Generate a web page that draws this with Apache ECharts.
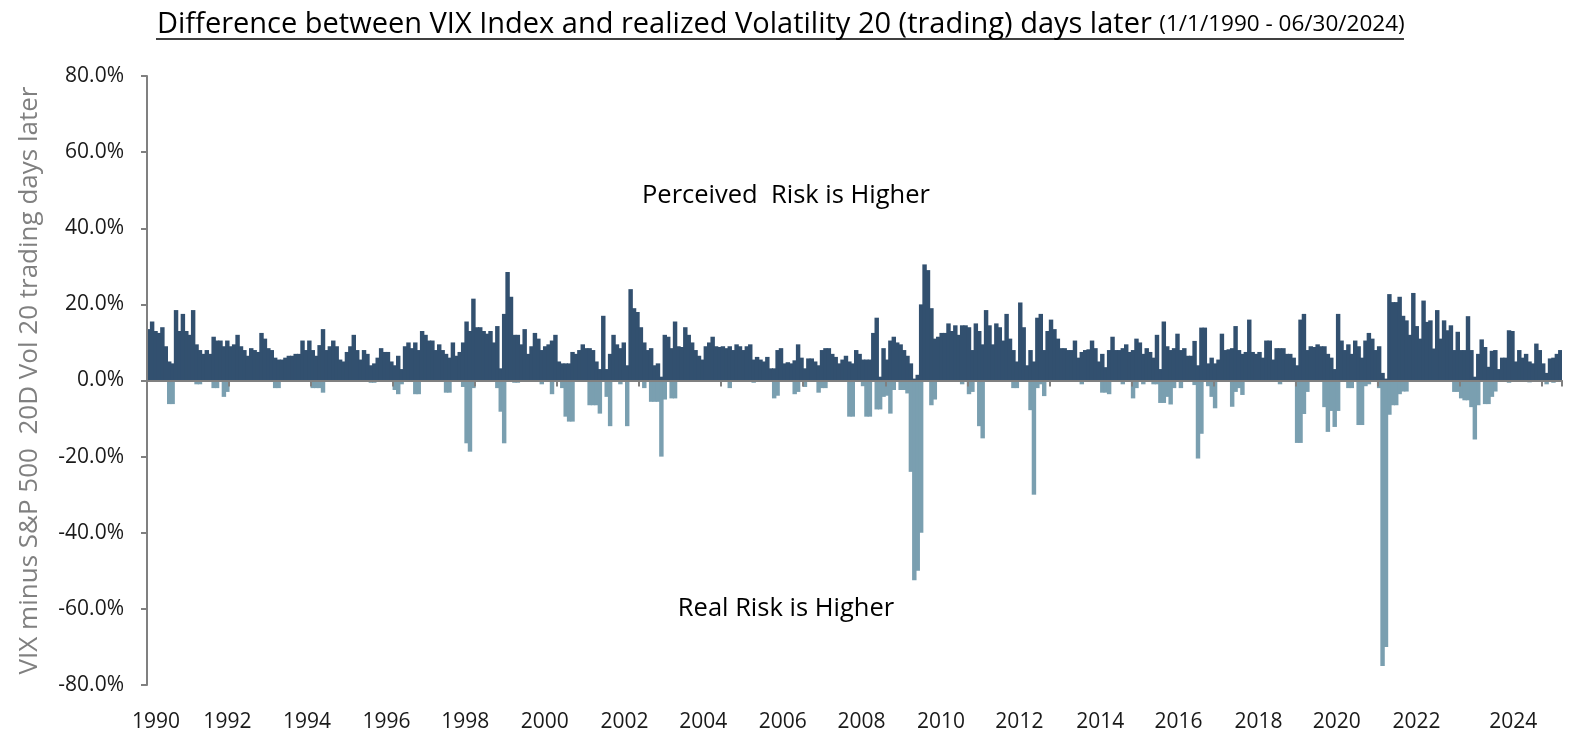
<!DOCTYPE html>
<html>
<head>
<meta charset="utf-8">
<script src="https://cdn.jsdelivr.net/npm/echarts@6/dist/echarts.min.js"></script>
<style>
  html, body { margin: 0; padding: 0; background: #ffffff; }
  #chart { width: 1580px; height: 731px; }
</style>
</head>
<body>
<div id="chart"></div>
<script>
// Monthly envelope of (VIX - S&P 500 20D realized vol 20 trading days later), in %, Jan 1990 .. Jun 2024
const startYear = 1990;
const positiveVals = [
  13.5, 15.5, 13, 12.5, 14, 9, 5, 4.5, 18.5, 13, 17.5, 13,          // 1990
  12, 18.5, 9.5, 8, 7, 8, 7, 11.5, 10.5, 10.5, 9, 10.5,             // 1991
  9, 9.5, 12, 9, 8, 6.5, 8.5, 8, 7.5, 12.5, 11, 8.5,                // 1992
  8, 6, 5.5, 5.5, 6, 6.5, 6.5, 7, 7, 10.5, 8, 10.5,                 // 1993
  8, 6.5, 9.3, 13.5, 8, 9, 10.5, 9, 5.5, 5, 7.5, 9,                 // 1994
  12, 8, 5.5, 8, 7, 4, 4.5, 6, 8.5, 7.5, 7.5, 5,                    // 1995
  4, 6.5, 3, 9, 10, 8.5, 10, 8, 13, 12, 10.5, 10.5,                 // 1996
  8, 9.5, 8, 7, 6, 10, 6.5, 7.5, 10, 15.5, 13, 21.5,                // 1997
  14, 14, 13, 12.3, 13, 10, 14.3, 3.2, 17.5, 28.5, 22, 12,          // 1998
  12, 9.5, 13.5, 7, 9, 12.5, 11, 8, 9, 9.5, 10.5, 12,               // 1999
  5, 4.5, 4.5, 4.5, 7.5, 7, 8, 9.5, 8.5, 8.5, 8, 5,                 // 2000
  3, 17, 3, 7, 12, 9.5, 8.5, 10, 4, 24, 19, 18,                     // 2001
  14, 10, 8, 8.5, 4, 4.5, 1, 12, 11.5, 8.5, 15.5, 9,                // 2002
  8.8, 14, 12, 10, 8, 6.5, 5.5, 9, 10, 11.5, 9, 8.8,                // 2003
  9, 8.5, 9, 8, 9.5, 9, 8, 9, 9.5, 5.5, 6.2, 5.5,                   // 2004
  5, 6.2, 3.2, 3.2, 8, 8.5, 4.5, 4.8, 4.5, 5.3, 9.5, 6,             // 2005
  3.2, 5.8, 5.8, 5, 4, 8, 8.5, 8.5, 7, 6.2, 4.5, 5.5,               // 2006
  6.5, 5, 4.5, 8, 7, 5.5, 5.5, 5.5, 12.5, 16.5, 1, 8.5,             // 2007
  5.5, 10.5, 11.5, 10, 9.5, 8, 6.5, 4.5, 0.5, 1.5, 20, 30.5,        // 2008
  29, 19, 11, 11.5, 12.5, 12.5, 15, 13, 14.5, 12, 14.5, 14.5,       // 2009
  14, 8, 15, 13, 9.5, 18.5, 14.5, 9.5, 15, 14, 10.5, 17.5,          // 2010
  11, 8, 5, 20.5, 14, 4, 8, 5, 16.5, 17.5, 8, 13,                   // 2011
  16, 13.5, 11, 8.5, 8.5, 8, 8, 10.5, 6, 7.5, 8, 8.2,               // 2012
  10.5, 8.5, 5, 7, 3.5, 8, 11.5, 8, 8, 8.5, 9.5, 7.5,               // 2013
  8, 11, 10, 7, 8.5, 7.5, 6, 12, 3, 15.5, 9, 8,                     // 2014
  8.5, 12.3, 8, 8.5, 6.5, 6.5, 10.4, 4, 13.9, 13.9, 4.5, 6,         // 2015
  4.5, 5.5, 12.3, 8, 8.2, 8.5, 14.3, 8, 7, 7.5, 16, 7.5,            // 2016
  7, 7.5, 6, 10.5, 10.5, 5.5, 8.5, 8.5, 8.5, 7, 7, 6,               // 2017
  4, 16, 17.5, 8, 9, 8.8, 9.5, 9, 9, 7, 6, 3,                       // 2018
  17.5, 10.5, 8, 9.5, 7, 10.5, 9, 6, 10.5, 12.5, 11, 8,             // 2019
  9, 2, 0.5, 22.7, 20.6, 20.6, 22, 17, 15.8, 12, 23, 14.3,          // 2020
  11, 21, 15.4, 15.8, 8.4, 18.5, 11, 15.8, 13.2, 14.5, 8, 12.8,     // 2021
  8, 8, 16.9, 8, 1, 7, 10.8, 8.8, 3.6, 7.8, 8, 3,                   // 2022
  6, 6, 13.2, 13, 5, 8, 6, 7, 5, 4.5, 9.7, 8,                       // 2023
  4.5, 2, 5.8, 6, 7, 8                                              // 2024 (Jan-Jun)
];
const negativeVals = [
  0, 0, 0, 0, 0, 0, -6.2, -6.2, 0, 0, 0, 0,                         // 1990
  0, 0, -1, -1, 0, 0, 0, -2, -2, 0, -4.3, -3,                       // 1991
  0, 0, 0, 0, 0, 0, 0, 0, 0, 0, 0, 0,                               // 1992
  0, -2, -2, 0, 0, 0, 0, 0, 0, 0, 0, 0,                             // 1993
  -2, -2, -2, -3.2, 0, 0, 0, 0, 0, 0, 0, 0,                         // 1994
  0, 0, 0, 0, 0, -0.6, -0.6, 0, 0, 0, 0, 0,                         // 1995
  -2.5, -3.6, -1, 0, 0, 0, -3.6, -3.6, 0, 0, 0, 0,                  // 1996
  0, 0, 0, -3.2, -3.2, 0, 0, 0, -1.7, -16.5, -18.7, -2,             // 1997
  0, 0, 0, 0, 0, 0, -2, -8.2, -16.5, 0, 0, -0.6,                    // 1998
  -0.6, 0, 0, 0, 0, 0, 0, -1, 0, 0, -3.6, 0,                        // 1999
  0, -2, -9.5, -10.8, -10.8, 0, 0, 0, 0, -6.5, -6.5, -6.5,          // 2000
  -8.7, 0, -4.3, -12, 0, 0, -1, 0, -12, 0, 0, 0,                    // 2001
  0, -2, 0, -5.6, -5.6, -5.6, -20, -5, 0, -4.7, -4.7, 0,            // 2002
  0, 0, 0, 0, 0, 0, 0, 0, 0, 0, 0, 0,                               // 2003
  0, 0, -2, 0, 0, 0, 0, 0, 0, -0.6, 0, 0,                           // 2004
  0, 0, 0, -4.7, -4, 0, 0, 0, 0, -3.6, -3, 0,                       // 2005
  -1.7, 0, 0, 0, -3.2, -2, -2, 0, 0, 0, 0, 0,                       // 2006
  0, -9.5, -9.5, 0, 0, -1.5, -9.5, -9.5, 0, -7.6, -7.6, -4.3,       // 2007
  -4, -8.7, -2.5, 0, -2.5, -2.5, -3.4, -24, -52.5, -50, -40, 0,     // 2008
  0, -6.5, -5, 0, 0, 0, 0, 0, 0, 0, -1, 0,                          // 2009
  -3.6, -3, 0, -12, -15.2, 0, 0, 0, 0, 0, 0, 0,                     // 2010
  0, -2, -2, 0, 0, 0, -7.8, -30, -2, -1, -4.1, 0,                   // 2011
  0, 0, 0, 0, 0, 0, 0, 0, 0, -1, 0, 0,                              // 2012
  0, 0, 0, -3.2, -3.2, -3.6, 0, 0, 0, -1, 0, 0,                     // 2013
  -4.7, -2, 0, -1, 0, 0, -1, -1, -5.9, -5.9, -4.3, -6.3,            // 2014
  -2, 0, -2, 0, 0, 0, -1.2, -20.5, -14, 0, -1.5, -4.3,              // 2015
  -7.3, 0, 0, 0, 0, -6.9, -3, -2, -3.8, 0, 0, 0,                    // 2016
  0, 0, 0, 0, 0, 0, 0, -1, 0, 0, 0, 0,                              // 2017
  -16.4, -16.4, -8.8, -3, 0, 0, 0, 0, -7, -13.5, -8, -12.2,         // 2018
  -8, 0, 0, -2, -2, 0, -11.7, -11.7, -1.5, -1, 0, 0,                // 2019
  -2, -75, -70, -9, -6.5, -6.5, -3.6, -2.9, -2.9, 0, 0, 0,          // 2020
  0, 0, 0, 0, 0, 0, 0, 0, 0, 0, -3, -3,                             // 2021
  -4.7, -5.2, -5.2, -7, -15.5, -6.5, 0, -6.2, -6.2, -4.3, -2.9, 0,  // 2022
  0, 0, -0.6, 0, 0, 0, 0, 0, -0.5, 0, 0, 0,                         // 2023
  0, -1, 0, -0.6, 0, 0                                              // 2024 (Jan-Jun)
];

// axis ticks / labels
const xTickYears = [1990, 1992, 1994, 1996, 1998, 2000, 2002, 2004, 2006, 2008, 2010, 2012, 2014, 2016, 2018, 2020, 2022, 2024];
const xLabelTexts = ['1990', '1992', '1994', '1996', '1998', '2000', '2002', '2004', '2006', '2008', '2010', '2012', '2014', '2016', '2018', '2020', '2022', '2024'];
const xLabelValues = [1990.22, 1991.96, 1993.90, 1995.84, 1997.76, 1999.70, 2001.64, 2003.56, 2005.50, 2007.42, 2009.36, 2011.27, 2013.24, 2015.15, 2017.10, 2019.01, 2020.95, 2023.31];
const yMin = -80, yMax = 80, yStep = 20;

const titleMain = 'Difference between VIX Index and realized Volatility 20 (trading) days later ';
const titleDates = '(1/1/1990 - 06/30/2024)';
const yAxisTitle = 'VIX minus S&P 500  20D Vol 20 trading days later';
const noteUp = 'Perceived  Risk is Higher';
const noteDown = 'Real Risk is Higher';

// month categories (one per bar)
const monthCats = positiveVals.map((v, i) => (startYear + Math.floor(i / 12)) + '-' + String(i % 12 + 1).padStart(2, '0'));
const tickIdx = new Set(xTickYears.map(y => (y - startYear) * 12));
const monthsSpan = positiveVals.length / 12;
const negData = negativeVals.map(v => (v === 0 ? '-' : v));

const FONT = '"Open Sans", "Noto Sans", sans-serif';
const DARK = '#32506f';
const LIGHT = '#7a9fb0';
const chart = echarts.init(document.getElementById('chart'), null, { renderer: 'canvas' });

chart.setOption({
  animation: false,
  backgroundColor: '#ffffff',
  textStyle: { fontFamily: FONT },
  title: {
    left: 152, top: 5,
    text: '{a|' + titleMain + '}{b|' + titleDates + '}',
    textStyle: {
      fontWeight: 'normal',
      rich: {
        a: { fontFamily: FONT, fontSize: 29, fontWeight: 'normal', color: '#000000' },
        b: { fontFamily: FONT, fontSize: 22.5, fontWeight: 'normal', color: '#000000' }
      }
    }
  },
  grid: { left: 147, right: 18, top: 76, bottom: 46, containLabel: false, outerBoundsMode: 'none' },
  xAxis: [
    {
      type: 'category', data: monthCats, boundaryGap: true, position: 'bottom', z: 5,
      axisLine: { show: true, onZero: true, lineStyle: { color: '#808080', width: 2 } },
      axisTick: {
        show: true, alignWithLabel: false, length: 6, inside: false,
        interval: (idx) => tickIdx.has(idx),
        lineStyle: { color: '#808080', width: 2 }
      },
      axisLabel: { show: false },
      splitLine: { show: false }
    },
    {
      type: 'value', min: startYear, max: startYear + monthsSpan, position: 'bottom',
      axisLine: { show: false, onZero: false },
      axisTick: { show: false },
      splitLine: { show: false },
      axisLabel: {
        show: true, customValues: xLabelValues, margin: 27,
        fontFamily: FONT, fontSize: 21, color: '#1a1a1a',
        formatter: function (v) {
          let best = 0;
          for (let k = 1; k < xLabelValues.length; k++) {
            if (Math.abs(xLabelValues[k] - v) < Math.abs(xLabelValues[best] - v)) best = k;
          }
          return xLabelTexts[best];
        }
      }
    }
  ],
  yAxis: {
    type: 'value', min: yMin, max: yMax, interval: yStep, z: 5,
    name: yAxisTitle, nameLocation: 'middle', nameRotate: 90, nameGap: 104,
    nameTextStyle: { fontFamily: FONT, fontSize: 26, color: '#808080' },
    axisLine: { show: true, lineStyle: { color: '#808080', width: 2 } },
    axisTick: { show: true, length: 6, inside: false, lineStyle: { color: '#808080', width: 2 } },
    axisLabel: {
      margin: 23, fontFamily: FONT, fontSize: 21, color: '#1a1a1a',
      formatter: v => v.toFixed(1) + '%'
    },
    splitLine: { show: false }
  },
  series: [
    {
      name: 'Perceived', type: 'bar', xAxisIndex: 0, data: positiveVals,
      stack: 'diff', barCategoryGap: '-30%',
      itemStyle: { color: DARK }
    },
    {
      name: 'Real', type: 'bar', xAxisIndex: 0, data: negData,
      stack: 'diff', barCategoryGap: '-30%',
      itemStyle: { color: LIGHT }
    }
  ],
  graphic: [
    {
      type: 'line', z: 10,
      shape: { x1: 156, y1: 39, x2: 1404, y2: 39 },
      style: { stroke: '#000000', lineWidth: 1.5 }
    },
    {
      type: 'text', x: 786, y: 196, z: 10,
      style: { text: noteUp, font: '25.5px ' + FONT, fill: '#000000', textAlign: 'center', textVerticalAlign: 'middle' }
    },
    {
      type: 'text', x: 786, y: 609, z: 10,
      style: { text: noteDown, font: '25.5px ' + FONT, fill: '#000000', textAlign: 'center', textVerticalAlign: 'middle' }
    }
  ]
});
</script>
</body>
</html>
